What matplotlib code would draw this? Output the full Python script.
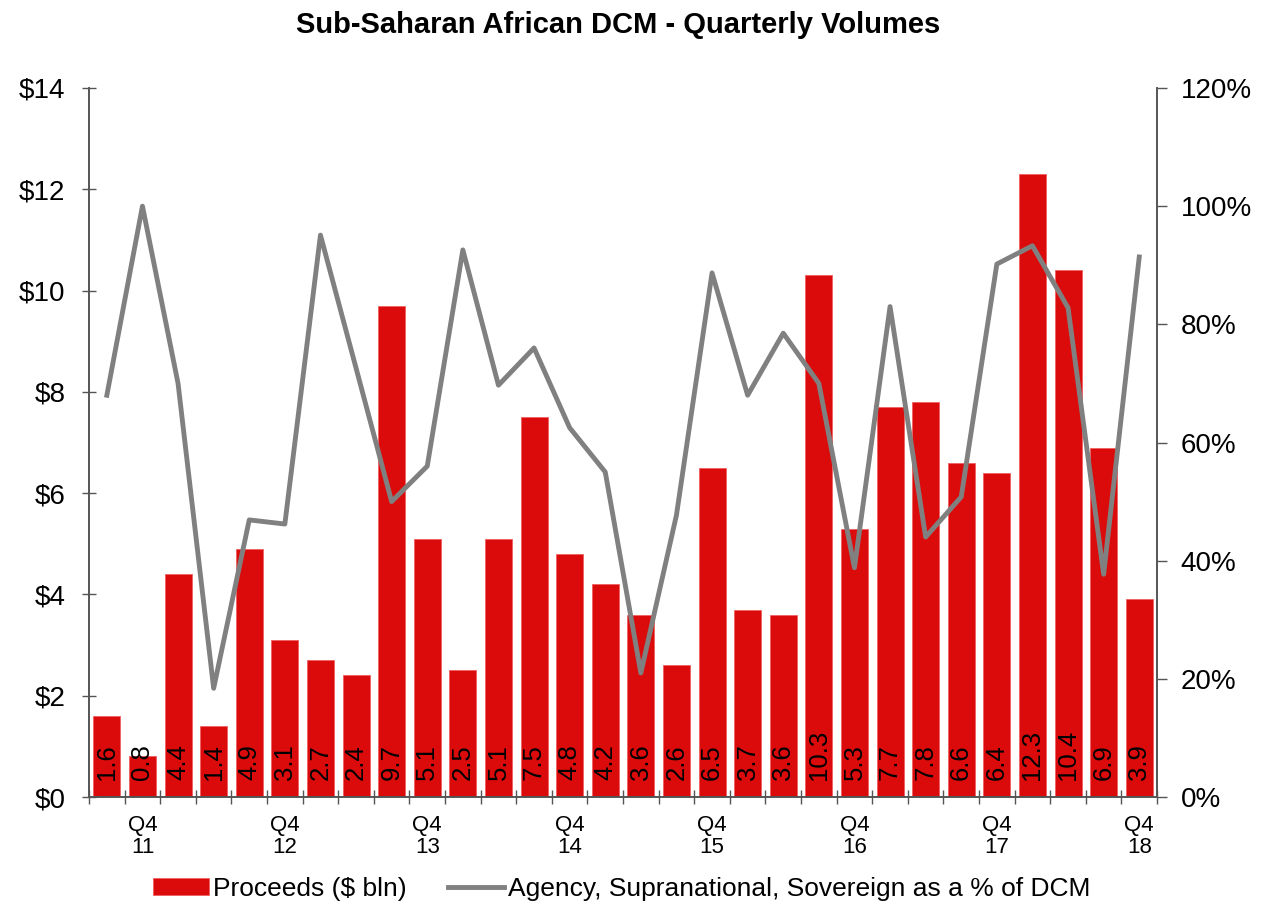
import matplotlib
matplotlib.use("Agg")
import matplotlib.pyplot as plt
import numpy as np
from matplotlib.ticker import FuncFormatter, FixedLocator

plt.rcParams['font.family'] = ['Liberation Sans', 'DejaVu Sans']

proceeds = [1.6, 0.8, 4.4, 1.4, 4.9, 3.1, 2.7, 2.4, 9.7, 5.1, 2.5, 5.1, 7.5, 4.8, 4.2,
            3.6, 2.6, 6.5, 3.7, 3.6, 10.3, 5.3, 7.7, 7.8, 6.6, 6.4, 12.3, 10.4, 6.9, 3.9]
sov_pct = [68, 100, 70, 18.4, 46.9, 46.2, 95.1, 72.6, 50, 56, 92.6, 69.7, 76, 62.5, 55,
           21, 47.7, 88.7, 68, 78.5, 70, 38.8, 83, 44, 50.8, 90.2, 93.3, 82.8, 37.7, 91.4]
q4_index = [1, 5, 9, 13, 17, 21, 25, 29]
q4_labels = ["Q4\n11", "Q4\n12", "Q4\n13", "Q4\n14", "Q4\n15", "Q4\n16", "Q4\n17", "Q4\n18"]

RED = "#DC0B0B"
GRAY = "#808080"
SPINE = "#555555"

fig = plt.figure(figsize=(12.74, 9.09), dpi=100)
ax = fig.add_axes([0.0699, 0.1232, 0.8383, 0.78])
x = np.arange(len(proceeds))
bars = ax.bar(x, proceeds, width=0.76, color=RED, edgecolor="#F06060", linewidth=0.6,
              label="Proceeds ($ bln)", zorder=2)
for xi, v in zip(x, proceeds):
    ax.annotate(f"{v:.1f}", (xi, 0), xytext=(0, 12), textcoords="offset points",
                rotation=90, ha="center", va="bottom", fontsize=18.5, color="black", zorder=5)

ax.set_xlim(-0.5, len(proceeds) - 0.5)
ax.set_ylim(0, 14)
ax.set_yticks(np.arange(0, 15, 2))
ax.yaxis.set_major_formatter(FuncFormatter(lambda v, p: f"${v:.0f}"))
ax.tick_params(axis='y', direction='inout', length=10, width=1, color=SPINE, labelsize=20, pad=12)
ax.set_xticks(q4_index)
ax.set_xticklabels(q4_labels, fontsize=16, linespacing=1.05)
ax.tick_params(axis='x', which='major', length=0, pad=13)
ax.xaxis.set_minor_locator(FixedLocator(np.arange(-0.5, len(proceeds), 1.0)))
ax.tick_params(axis='x', which='minor', direction='inout', length=10, width=1, color=SPINE)
ax.spines['top'].set_visible(False)
for s in ['left', 'bottom', 'right']:
    ax.spines[s].set_color(SPINE)
    ax.spines[s].set_linewidth(1.2)

ax2 = ax.twinx()
ln, = ax2.plot(x, sov_pct, color=GRAY, linewidth=3.5, zorder=3,
               label="Agency, Supranational, Sovereign as a % of DCM")
ax2.set_ylim(0, 120)
ax2.set_yticks(np.arange(0, 121, 20))
ax2.yaxis.set_major_formatter(FuncFormatter(lambda v, p: f"{v:.0f}%"))
ax2.tick_params(axis='y', direction='out', length=7, width=1, color=SPINE, labelsize=20, pad=10)
ax2.spines['top'].set_visible(False)
for s in ['left', 'bottom', 'right']:
    ax2.spines[s].set_color(SPINE)
    ax2.spines[s].set_linewidth(1.2)

fig.suptitle("Sub-Saharan African DCM - Quarterly Volumes", x=0.485, y=0.988,
             fontsize=21, fontweight="bold")

fig.legend([bars, ln], ["Proceeds ($ bln)", "Agency, Supranational, Sovereign as a % of DCM"],
           loc="center", bbox_to_anchor=(0.488, 0.022), ncol=2, frameon=False,
           fontsize=19, handlelength=2.1, handleheight=0.6, handletextpad=0.15,
           columnspacing=1.6)

fig.savefig("out.png", dpi=100)
